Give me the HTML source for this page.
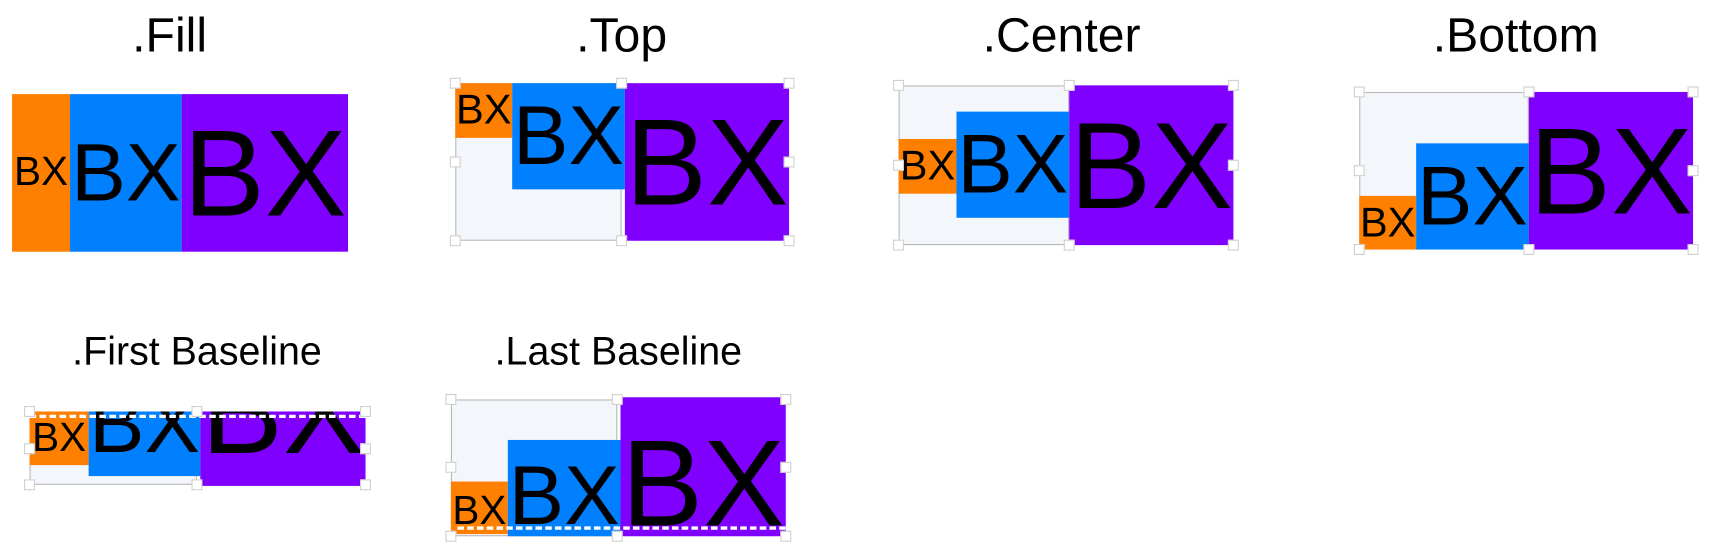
<!DOCTYPE html>
<html><head><meta charset="utf-8">
<style>
html,body{margin:0;padding:0;background:#fff;width:1716px;height:556px;overflow:hidden}
#stage{position:absolute;left:0;top:0;width:1568px;height:508px;transform:scale(1.0944);transform-origin:0 0;font-family:"Liberation Sans","Noto Sans CJK SC",sans-serif}
.t{position:absolute;width:400px;margin-left:-200px;text-align:center;color:#000;white-space:nowrap}
.t1{font-size:44px;top:8px}
.t2{font-size:36px;top:300px}
.fr{position:absolute;background:#f3f6fb;border:1px solid #b8b8b8;box-sizing:border-box}
.b{position:absolute;overflow:hidden}
.b span{position:absolute;left:-10px;right:-10px;text-align:center;line-height:1.37em;color:#000;white-space:nowrap}
.o{background:#ff8000}.bl{background:#0080ff}.p{background:#8000ff}
.h{position:absolute;width:10px;height:10px;margin:-5px 0 0 -5px;background:#fff;border:1px solid #cfcfcf;box-sizing:border-box}
.d{position:absolute;height:0;border-top:3px dashed #fff}
</style></head><body>
<div id="stage">

<div class="t t1" style="left:155px">.Fill</div>
<div class="t t1" style="left:568px">.Top</div>
<div class="t t1" style="left:970px">.Center</div>
<div class="t t1" style="left:1385px">.Bottom</div>
<div class="t t2" style="left:180px">.First Baseline</div>
<div class="t t2" style="left:565px">.Last Baseline</div>

<!-- Fill -->
<div class="b o" style="left:11px;top:86px;width:53px;height:144px"><span style="font-size:37px;top:46px">BX</span></div>
<div class="b bl" style="left:64px;top:86px;width:102px;height:144px"><span style="font-size:75px;top:20px">BX</span></div>
<div class="b p" style="left:166px;top:86px;width:152px;height:144px"><span style="font-size:112px;top:-4px">BX</span></div>

<!-- Top -->
<div class="fr" style="left:416px;top:76px;width:152px;height:144px"></div>
<div class="b o" style="left:416px;top:76px;width:52px;height:50px"><span style="font-size:38px;top:-1px">BX</span></div>
<div class="b bl" style="left:468px;top:76px;width:103px;height:97px"><span style="font-size:76px;top:-3px">BX</span></div>
<div class="b p" style="left:571px;top:76px;width:150px;height:144px"><span style="font-size:112px;top:-4px">BX</span></div>

<!-- Center -->
<div class="fr" style="left:821px;top:78px;width:156px;height:146px"></div>
<div class="b o" style="left:821px;top:127px;width:53px;height:50px"><span style="font-size:38px;top:-1px">BX</span></div>
<div class="b bl" style="left:874px;top:102px;width:103px;height:97px"><span style="font-size:76px;top:-3px">BX</span></div>
<div class="b p" style="left:977px;top:78px;width:150px;height:146px"><span style="font-size:112px;top:-3px">BX</span></div>

<!-- Bottom -->
<div class="fr" style="left:1242px;top:84px;width:155px;height:144px"></div>
<div class="b o" style="left:1242px;top:179px;width:52px;height:49px"><span style="font-size:38px;top:-1px">BX</span></div>
<div class="b bl" style="left:1294px;top:131px;width:103px;height:97px"><span style="font-size:76px;top:-3px">BX</span></div>
<div class="b p" style="left:1397px;top:84px;width:150px;height:144px"><span style="font-size:112px;top:-4px">BX</span></div>

<!-- First Baseline -->
<div class="fr" style="left:27px;top:376px;width:153px;height:67px"></div>
<div class="b o" style="left:27px;top:376px;width:54px;height:49px"><span style="font-size:37px;top:-1px">BX</span></div>
<div class="b bl" style="left:81px;top:376px;width:102px;height:59px"><span style="font-size:76px;top:-40px">BX</span></div>
<div class="b p" style="left:183px;top:376px;width:151px;height:68px"><span style="font-size:112px;top:-77px">BX</span></div>
<div class="d" style="left:27px;top:379px;width:307px"></div>

<!-- Last Baseline -->
<div class="fr" style="left:412px;top:365px;width:152px;height:125px"></div>
<div class="b o" style="left:412px;top:440px;width:52px;height:48px"><span style="font-size:37px;top:2px">BX</span></div>
<div class="b bl" style="left:464px;top:402px;width:103px;height:88px"><span style="font-size:76px;top:0px">BX</span></div>
<div class="b p" style="left:567px;top:363px;width:151px;height:127px"><span style="font-size:112px;top:2px">BX</span></div>
<div class="d" style="left:418px;top:481px;width:300px"></div>

<!-- Handles -->
<div>
<div class="h" style="left:416px;top:76px"></div><div class="h" style="left:568px;top:76px"></div><div class="h" style="left:721px;top:76px"></div>
<div class="h" style="left:416px;top:148px"></div><div class="h" style="left:721px;top:148px"></div>
<div class="h" style="left:416px;top:220px"></div><div class="h" style="left:568px;top:220px"></div><div class="h" style="left:721px;top:220px"></div>
</div>
<div>
<div class="h" style="left:821px;top:78px"></div><div class="h" style="left:977px;top:78px"></div><div class="h" style="left:1127px;top:78px"></div>
<div class="h" style="left:821px;top:151px"></div><div class="h" style="left:1127px;top:151px"></div>
<div class="h" style="left:821px;top:224px"></div><div class="h" style="left:977px;top:224px"></div><div class="h" style="left:1127px;top:224px"></div>
</div>
<div>
<div class="h" style="left:1242px;top:84px"></div><div class="h" style="left:1397px;top:84px"></div><div class="h" style="left:1547px;top:84px"></div>
<div class="h" style="left:1242px;top:156px"></div><div class="h" style="left:1547px;top:156px"></div>
<div class="h" style="left:1242px;top:228px"></div><div class="h" style="left:1397px;top:228px"></div><div class="h" style="left:1547px;top:228px"></div>
</div>
<div>
<div class="h" style="left:27px;top:376px"></div><div class="h" style="left:180px;top:376px"></div><div class="h" style="left:334px;top:376px"></div>
<div class="h" style="left:27px;top:410px"></div><div class="h" style="left:334px;top:410px"></div>
<div class="h" style="left:27px;top:443px"></div><div class="h" style="left:180px;top:443px"></div><div class="h" style="left:334px;top:443px"></div>
</div>
<div>
<div class="h" style="left:412px;top:365px"></div><div class="h" style="left:564px;top:365px"></div><div class="h" style="left:718px;top:365px"></div>
<div class="h" style="left:412px;top:427px"></div><div class="h" style="left:718px;top:427px"></div>
<div class="h" style="left:412px;top:490px"></div><div class="h" style="left:564px;top:490px"></div><div class="h" style="left:718px;top:490px"></div>
</div>

</div>
</body></html>
